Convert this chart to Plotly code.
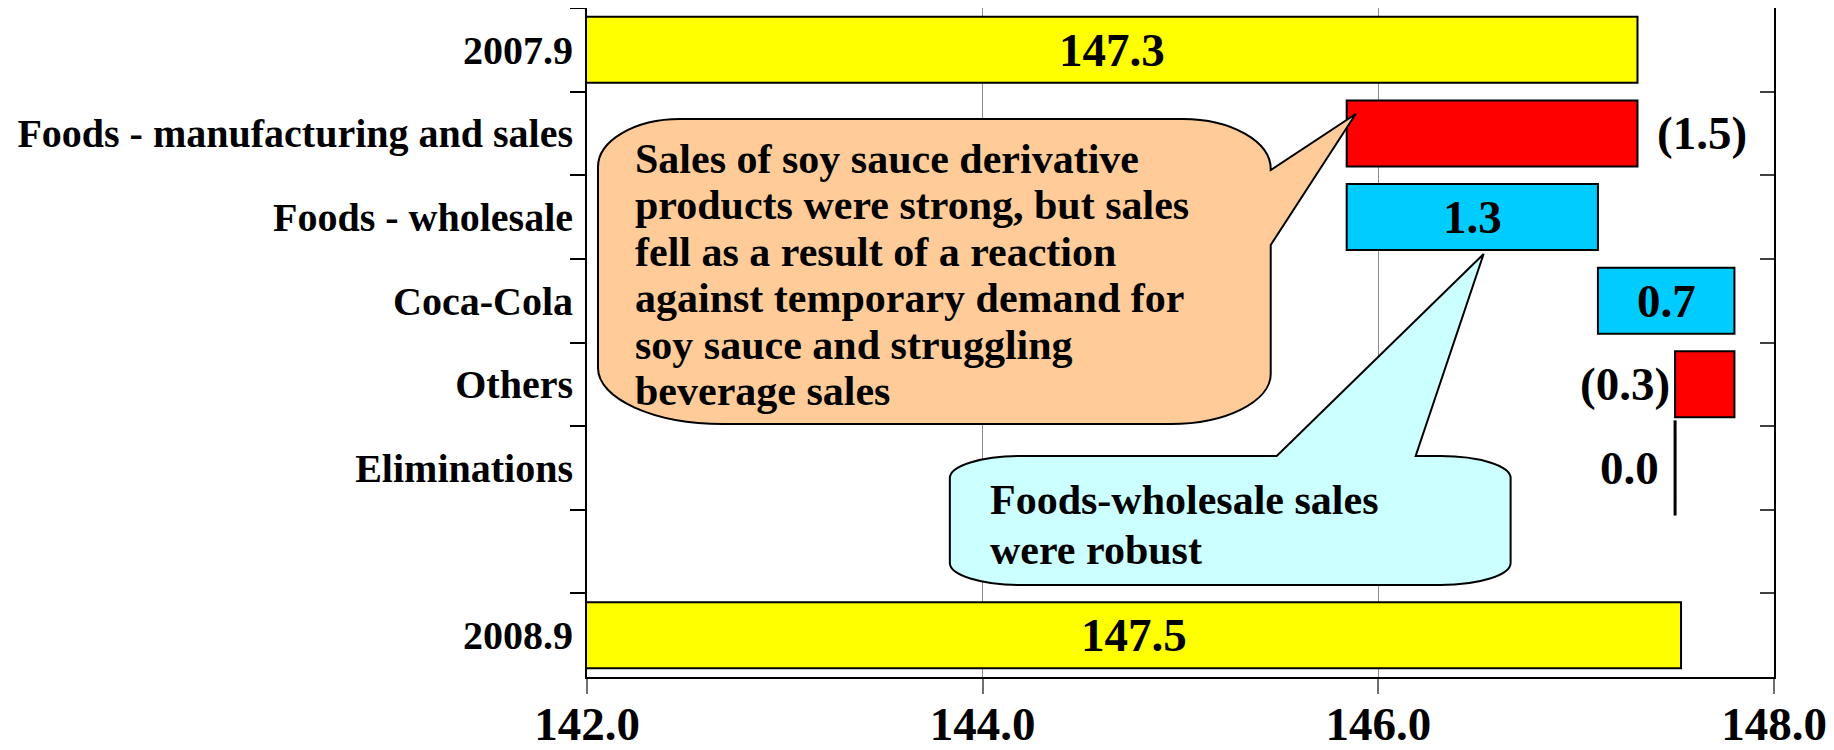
import plotly.graph_objects as go

# ---------------- data ----------------
categories = ["2007.9", "Foods - manufacturing and sales", "Foods - wholesale",
              "Coca-Cola", "Others", "Eliminations", " ", "2008.9"]
start_total = 147.31
changes = [-1.47, 1.27, 0.69, -0.30, 0.0]          # Foods mfg, Foods wholesale, Coca-Cola, Others, Eliminations
end_total = 147.53
value_labels = ["147.3", "(1.5)", "1.3", "0.7", "(0.3)", "0.0", "", "147.5"]
x_tick_values = [142.0, 144.0, 146.0, 148.0]
x_range = [142.0, 148.0]

callout1_lines = ["Sales of soy sauce derivative",
                  "products were strong, but sales",
                  "fell as a result of a reaction",
                  "against temporary demand for",
                  "soy sauce and struggling",
                  "beverage sales"]
callout2_lines = ["Foods-wholesale sales", "were robust"]

# ---------------- styles ----------------
YELLOW = "#FFFF00"
RED = "#FF0000"
CYAN = "#00CCFF"
PEACH = "#FFCC99"
LIGHTCYAN = "#CCFFFF"
FONT = "Liberation Serif"

# page body has an 8px margin, so the figure is drawn 8px in from the corner
OFF = 8
W, H = 1834 - OFF, 750 - OFF
# plot box in screenshot pixels
BOX_L, BOX_R, BOX_T, BOX_B = 587, 1774.5, 8, 677
ML, MT = BOX_L - OFF, BOX_T - OFF
MR = W - (BOX_R - OFF)
MB = H - (BOX_B - OFF)
PW = BOX_R - BOX_L
PH = BOX_B - BOX_T


def px(xp):
    return (xp - BOX_L) / PW


def py(yp):
    return (BOX_B - yp) / PH


# ---------------- waterfall geometry ----------------
bar_y, bar_base, bar_len, bar_col = [categories[0]], [0.0], [start_total], [YELLOW]
running = start_total
seg_ends = []
for cat, d in zip(categories[1:6], changes):
    new = running + d
    lo, hi = min(running, new), max(running, new)
    bar_y.append(cat)
    bar_base.append(lo)
    bar_len.append(hi - lo)
    bar_col.append(RED if d < 0 else CYAN)
    seg_ends.append((lo, hi))
    running = new
elim_x = running
bar_y.append(categories[7])
bar_base.append(0.0)
bar_len.append(end_total)
bar_col.append(YELLOW)

fig = go.Figure()
fig.add_trace(go.Bar(
    y=bar_y, x=bar_len, base=bar_base, orientation="h",
    marker=dict(color=bar_col, line=dict(color="black", width=2)),
    width=0.79, hoverinfo="skip", showlegend=False,
))
# Eliminations: zero change drawn as a vertical line marker
fig.add_trace(go.Scatter(
    x=[elim_x], y=[categories[5]], mode="markers",
    marker=dict(symbol="line-ns-open", size=68, color="black",
                line=dict(color="black", width=3)),
    hoverinfo="skip", showlegend=False,
))
# helper trace for secondary (frame) axes
fig.add_trace(go.Scatter(x=[None], y=[None], xaxis="x2", yaxis="y2",
                         showlegend=False, hoverinfo="skip"))

# ---------------- value labels ----------------
lab_font = dict(family=FONT, size=47, color="black", weight="bold")
ann = []
# totals (category axis positions given by index)
ann.append(dict(x=(x_range[0] + start_total) / 2, y=0, text=value_labels[0],
                xanchor="center", yanchor="middle", showarrow=False, font=lab_font))
ann.append(dict(x=(x_range[0] + end_total) / 2, y=7, text=value_labels[7],
                xanchor="center", yanchor="middle", showarrow=False, font=lab_font))
# changes
for i, d in enumerate(changes):
    lo, hi = seg_ends[i]
    txt = value_labels[i + 1]
    if i == 0:
        a = dict(x=hi, xanchor="left", xshift=18)
    elif d > 0:
        a = dict(x=(lo + hi) / 2, xanchor="center", xshift=0)
    elif d < 0:
        a = dict(x=lo, xanchor="right", xshift=-3)
    else:
        a = dict(x=lo, xanchor="right", xshift=-14)
    a.update(y=i + 1, text=txt, yanchor="middle", showarrow=False, font=lab_font)
    ann.append(a)

# ---------------- callouts ----------------
def rounded_path(left, top, right, bottom, radii, pointer=None, side=None):
    """radii: ((rx,ry) tl, tr, br, bl) in pixels; pointer on 'right' or 'top' side."""
    k = 0.55
    (tlx, tly), (trx, try_), (brx, bry), (blx, bly) = radii
    p = []

    def P(x, y):
        return f"{px(x):.5f},{py(y):.5f}"

    def C(x0, y0, cx, cy, x1, y1):
        c1 = (x0 + (cx - x0) * k, y0 + (cy - y0) * k)
        c2 = (x1 + (cx - x1) * k, y1 + (cy - y1) * k)
        return f"C{P(*c1)} {P(*c2)} {P(x1, y1)}"

    p.append("M" + P(left + tlx, top))
    if side == "top":
        (j1, j2, tip) = pointer
        p.append("L" + P(j1[0], j1[1]))
        p.append("L" + P(tip[0], tip[1]))
        p.append("L" + P(j2[0], j2[1]))
    p.append("L" + P(right - trx, top))
    p.append(C(right - trx, top, right, top, right, top + try_))
    if side == "right":
        (j1, j2, tip) = pointer
        p.append("L" + P(j1[0], j1[1]))
        p.append("L" + P(tip[0], tip[1]))
        p.append("L" + P(j2[0], j2[1]))
    p.append("L" + P(right, bottom - bry))
    p.append(C(right, bottom - bry, right, bottom, right - brx, bottom))
    p.append("L" + P(left + blx, bottom))
    p.append(C(left + blx, bottom, left, bottom, left, bottom - bly))
    p.append("L" + P(left, top + tly))
    p.append(C(left, top + tly, left, top, left + tlx, top))
    p.append("Z")
    return " ".join(p)


path1 = rounded_path(598, 119, 1271, 424,
                     ((82, 48), (88, 50), (100, 50), (125, 56)),
                     pointer=((1271, 170), (1271, 245), (1356, 114)), side="right")
path2 = rounded_path(950, 456, 1511, 585,
                     ((70, 22), (70, 22), (70, 22), (70, 22)),
                     pointer=((1277, 456), (1416, 456), (1484, 254)), side="top")

shapes = [
    dict(type="path", path=path1, xref="paper", yref="paper", layer="above",
         fillcolor=PEACH, line=dict(color="black", width=2)),
    dict(type="path", path=path2, xref="paper", yref="paper", layer="above",
         fillcolor=LIGHTCYAN, line=dict(color="black", width=2)),
]

call_font = dict(family=FONT, size=42, color="black", weight="bold")
base1 = [174, 220.5, 267, 313.5, 360, 406]
for line, b in zip(callout1_lines, base1):
    ann.append(dict(xref="paper", yref="paper", x=px(633), y=py(b + 10), text=line,
                    xanchor="left", yanchor="bottom", showarrow=False, font=call_font))
base2 = [515, 565]
for line, b in zip(callout2_lines, base2):
    ann.append(dict(xref="paper", yref="paper", x=px(988), y=py(b + 10), text=line,
                    xanchor="left", yanchor="bottom", showarrow=False, font=call_font))

# ---------------- layout ----------------
n = len(categories)
fig.update_layout(
    width=W, height=H,
    margin=dict(l=ML, r=MR, t=MT, b=MB, pad=0, autoexpand=False),
    plot_bgcolor="white", paper_bgcolor="white",
    bargap=0.2,
    xaxis=dict(range=x_range, tickvals=x_tick_values, tickformat=".1f",
               automargin=False,
               showgrid=True, gridcolor="#8c8c8c", gridwidth=1,
               showline=True, linecolor="black", linewidth=2,
               ticks="outside", ticklen=15, tickcolor="#707070", tickwidth=1.5,
               tickfont=dict(family=FONT, size=47, color="black", weight="bold"),
               ticklabelstandoff=-10, zeroline=False),
    yaxis=dict(type="category", categoryorder="array", categoryarray=categories,
               automargin=False,
               range=[n - 0.5, -0.5], tickson="boundaries",
               showline=True, linecolor="black", linewidth=2,
               ticks="outside", ticklen=15, tickcolor="black", tickwidth=1.5,
               tickfont=dict(family=FONT, size=40, color="black", weight="bold"),
               ticklabelstandoff=4,
               showgrid=False, zeroline=False),
    xaxis2=dict(overlaying="x", side="top", range=x_range, matches="x",
                automargin=False,
                showline=True, linecolor="#8c8c8c", linewidth=1.5,
                showticklabels=False, ticks="", showgrid=False, zeroline=False),
    yaxis2=dict(overlaying="y", side="right", anchor="x", range=[n - 0.5, -0.5],
                automargin=False,
                tickvals=[i + 0.5 for i in range(-1, n)],
                showline=True, linecolor="black", linewidth=1.5,
                ticks="inside", ticklen=14, tickcolor="#404040", tickwidth=1.5,
                showticklabels=False, showgrid=False, zeroline=False),
    shapes=shapes,
    annotations=ann,
)

fig.write_html("out.html")
